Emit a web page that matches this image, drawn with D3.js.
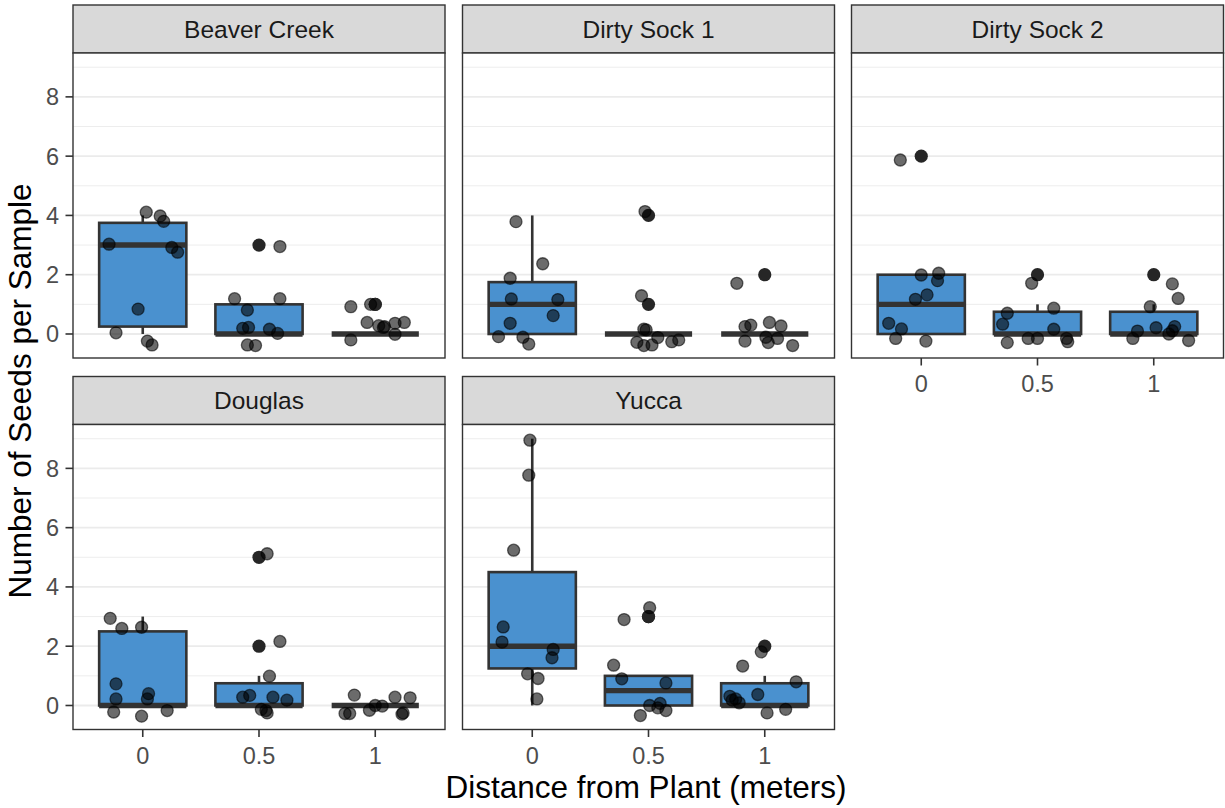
<!DOCTYPE html>
<html>
<head>
<meta charset="utf-8">
<script src="https://cdn.jsdelivr.net/npm/d3@7"></script>
<style>
  html, body { margin: 0; padding: 0; background: #ffffff; }
  svg { display: block; font-family: "Liberation Sans", Arial, Helvetica, sans-serif; }
</style>
</head>
<body>
<svg id="chart" width="1225" height="808"></svg>
<script>
// Seed counts per sample at each site. Each record: [distance (m), seeds, jitter x (band steps), jitter y (seeds)]
const sites = ["Beaver Creek", "Dirty Sock 1", "Dirty Sock 2", "Douglas", "Yucca"];
const distances = ["0", "0.5", "1"];
const yTicks = [0, 2, 4, 6, 8];
const yMinor = [1, 3, 5, 7, 9];

const beaverCreek = [
  [0, 4, 0.03, 0.11], [0, 4, 0.15, -0.02], [0, 4, 0.18, -0.20], [0, 3, -0.29, 0.03], [0, 3, 0.25, -0.08],
  [0, 3, 0.30, -0.24], [0, 1, -0.04, -0.16], [0, 0, -0.23, 0.04], [0, 0, 0.04, -0.24], [0, 0, 0.08, -0.37],
  [0.5, 1, -0.21, 0.19], [0.5, 1, 0.18, 0.19], [0.5, 1, -0.10, -0.19], [0.5, 0, -0.14, 0.19], [0.5, 0, -0.09, 0.22],
  [0.5, 0, 0.09, 0.16], [0.5, 0, 0.16, 0.02], [0.5, 0, -0.10, -0.37], [0.5, 0, -0.03, -0.39], [0.5, 3, 0.18, -0.05],
  [1, 1, -0.21, -0.08], [1, 1, -0.04, 0.00], [1, 0, -0.07, 0.39], [1, 0, 0.03, 0.28], [1, 0, 0.08, 0.25],
  [1, 0, 0.17, 0.36], [1, 0, 0.25, 0.39], [1, 0, 0.17, -0.01], [1, 0, -0.21, -0.20], [1, 0, 0.07, 0.22]
];

const dirtySock1 = [
  [0, 4, -0.14, -0.21], [0, 2, 0.09, 0.37], [0, 2, -0.19, -0.12], [0, 1, -0.18, 0.18], [0, 1, 0.22, 0.16],
  [0, 1, 0.18, -0.38], [0, 0, -0.19, 0.36], [0, 0, -0.29, -0.09], [0, 0, -0.08, -0.11], [0, 0, -0.03, -0.34],
  [0.5, 4, -0.03, 0.13], [0.5, 1, -0.06, 0.29], [0.5, 0, -0.04, 0.16], [0.5, 0, -0.02, 0.14], [0.5, 0, 0.08, -0.12],
  [0.5, 0, -0.10, -0.28], [0.5, 0, -0.04, -0.39], [0.5, 0, 0.03, -0.37], [0.5, 0, 0.20, -0.26], [0.5, 0, 0.26, -0.20],
  [1, 2, -0.24, -0.29], [1, 0, -0.17, 0.25], [1, 0, -0.12, 0.30], [1, 0, 0.04, 0.39], [1, 0, 0.14, 0.27],
  [1, 0, -0.17, -0.24], [1, 0, 0.01, -0.11], [1, 0, 0.03, -0.29], [1, 0, 0.11, -0.15], [1, 0, 0.24, -0.39]
];

const dirtySock2 = [
  [0, 6, -0.18, -0.13], [0, 2, 0.00, -0.01], [0, 2, 0.15, 0.05], [0, 2, 0.14, -0.20], [0, 1, 0.05, 0.32],
  [0, 1, -0.05, 0.17], [0, 0, -0.28, 0.36], [0, 0, -0.17, 0.17], [0, 0, -0.22, -0.15], [0, 0, 0.04, -0.24],
  [0.5, 2, -0.05, -0.29], [0.5, 1, -0.26, -0.30], [0.5, 1, 0.14, -0.13], [0.5, 0, -0.30, 0.33], [0.5, 0, 0.14, 0.16],
  [0.5, 0, -0.08, -0.15], [0.5, 0, 0.00, -0.15], [0.5, 0, -0.26, -0.29], [0.5, 0, 0.25, -0.15], [0.5, 0, 0.26, -0.26],
  [1, 2, 0.16, -0.31], [1, 1, 0.21, 0.20], [1, 1, -0.03, -0.08], [1, 0, -0.14, 0.10], [1, 0, -0.18, -0.15],
  [1, 0, 0.02, 0.21], [1, 0, 0.18, 0.25], [1, 0, 0.16, 0.11], [1, 0, 0.13, 0.00], [1, 0, 0.30, -0.22]
];

const douglas = [
  [0, 3, -0.28, -0.06], [0, 3, -0.18, -0.40], [0, 3, -0.01, -0.36], [0, 1, -0.23, -0.27], [0, 0, -0.23, 0.22],
  [0, 0, 0.05, 0.40], [0, 0, 0.04, 0.22], [0, 0, -0.25, -0.22], [0, 0, -0.01, -0.36], [0, 0, 0.21, -0.17],
  [0.5, 5, 0.07, 0.12], [0.5, 2, 0.18, 0.16], [0.5, 1, 0.09, -0.01], [0.5, 0, -0.14, 0.28], [0.5, 0, -0.08, 0.34],
  [0.5, 0, 0.12, 0.28], [0.5, 0, 0.24, 0.18], [0.5, 0, 0.02, -0.13], [0.5, 0, 0.07, -0.25], [0.5, 0, 0.06, -0.17],
  [1, 0, -0.18, 0.35], [1, 0, 0.17, 0.28], [1, 0, 0.30, 0.26], [1, 0, 0.00, 0.00], [1, 0, 0.06, -0.02],
  [1, 0, -0.05, -0.16], [1, 0, -0.26, -0.27], [1, 0, -0.22, -0.27], [1, 0, 0.24, -0.25], [1, 0, 0.23, -0.29]
];

const yucca = [
  [0, 9, -0.02, -0.05], [0, 8, -0.03, -0.23], [0, 5, -0.16, 0.24], [0, 3, -0.25, -0.35], [0, 2, -0.26, 0.14],
  [0, 2, 0.18, -0.11], [0, 2, 0.17, -0.39], [0, 1, -0.04, 0.07], [0, 1, 0.05, -0.09], [0, 0, 0.04, 0.22],
  [0.5, 3, 0.01, 0.30], [0.5, 3, -0.21, -0.10], [0.5, 1, -0.30, 0.36], [0.5, 1, -0.23, -0.10], [0.5, 1, 0.15, -0.24],
  [0.5, 0, 0.01, 0.00], [0.5, 0, 0.10, 0.07], [0.5, 0, 0.08, -0.08], [0.5, 0, 0.15, -0.17], [0.5, 0, -0.07, -0.34],
  [1, 2, -0.03, -0.19], [1, 1, -0.19, 0.33], [1, 1, 0.27, -0.20], [1, 0, -0.06, 0.37], [1, 0, -0.30, 0.31],
  [1, 0, -0.28, 0.18], [1, 0, -0.22, 0.09], [1, 0, -0.25, 0.22], [1, 0, 0.02, -0.25], [1, 0, 0.18, -0.13]
];

const siteData = [beaverCreek, dirtySock1, dirtySock2, douglas, yucca];

// ---- layout ----
const colX = [73, 462.5, 851.5];
const rowY = [53, 424.5];
const panelW = 372, panelH = 305, stripH = 48;
const yDomain = [-0.81, 9.48];

const boxFill = "#4a91cf";
const ink = "#333333";
const gridCol = "#ebebeb";
const tickTextCol = "#4d4d4d";

const svg = d3.select("#chart");

function boxStats(values) {
  const s = values.slice().sort(d3.ascending);
  const q1 = d3.quantileSorted(s, 0.25);
  const med = d3.quantileSorted(s, 0.5);
  const q3 = d3.quantileSorted(s, 0.75);
  const iqr = q3 - q1;
  const loF = q1 - 1.5 * iqr, hiF = q3 + 1.5 * iqr;
  const inside = s.filter(v => v >= loF && v <= hiF);
  return {
    q1, med, q3,
    lo: d3.min(inside), hi: d3.max(inside),
    outliers: s.filter(v => v < loF || v > hiF)
  };
}

sites.forEach((site, i) => {
  const col = i % 3, row = Math.floor(i / 3);
  const x0 = colX[col], y0 = rowY[row];
  const data = siteData[i];

  const x = d3.scalePoint().domain(distances).range([x0, x0 + panelW]).padding(0.6);
  const y = d3.scaleLinear().domain(yDomain).range([y0 + panelH, y0]);
  const step = x.step();
  const boxW = 0.75 * step;

  const g = svg.append("g");

  // strip
  g.append("rect")
    .attr("x", x0).attr("y", y0 - stripH)
    .attr("width", panelW).attr("height", stripH)
    .attr("fill", "#d9d9d9").attr("stroke", ink).attr("stroke-width", 1.4);
  g.append("text")
    .attr("x", x0 + panelW / 2).attr("y", y0 - stripH + 32.5)
    .attr("text-anchor", "middle")
    .attr("font-size", 24.5).attr("fill", "#1a1a1a")
    .text(site);

  // panel background + horizontal grid
  g.append("rect")
    .attr("x", x0).attr("y", y0).attr("width", panelW).attr("height", panelH)
    .attr("fill", "#ffffff");
  g.selectAll(".minor").data(yMinor).join("line")
    .attr("x1", x0).attr("x2", x0 + panelW)
    .attr("y1", d => y(d)).attr("y2", d => y(d))
    .attr("stroke", gridCol).attr("stroke-width", 0.9);
  g.selectAll(".major").data(yTicks).join("line")
    .attr("x1", x0).attr("x2", x0 + panelW)
    .attr("y1", d => y(d)).attr("y2", d => y(d))
    .attr("stroke", gridCol).attr("stroke-width", 1.8);

  // boxplots
  distances.forEach(dist => {
    const counts = data.filter(r => String(r[0]) === dist).map(r => r[1]);
    const st = boxStats(counts);
    const cx = x(dist);
    const bg = g.append("g");
    bg.append("line")
      .attr("x1", cx).attr("x2", cx).attr("y1", y(st.q3)).attr("y2", y(st.hi))
      .attr("stroke", ink).attr("stroke-width", 2.6);
    bg.append("line")
      .attr("x1", cx).attr("x2", cx).attr("y1", y(st.q1)).attr("y2", y(st.lo))
      .attr("stroke", ink).attr("stroke-width", 2.6);
    bg.append("rect")
      .attr("x", cx - boxW / 2).attr("width", boxW)
      .attr("y", y(st.q3)).attr("height", Math.max(0, y(st.q1) - y(st.q3)))
      .attr("fill", boxFill).attr("stroke", ink).attr("stroke-width", 2.6);
    bg.append("line")
      .attr("x1", cx - boxW / 2).attr("x2", cx + boxW / 2)
      .attr("y1", y(st.med)).attr("y2", y(st.med))
      .attr("stroke", ink).attr("stroke-width", 5.4);
    bg.selectAll("circle").data(st.outliers).join("circle")
      .attr("cx", cx).attr("cy", d => y(d)).attr("r", 6.6)
      .attr("fill", "#262626");
  });

  // jittered samples
  g.selectAll(".pt").data(data).join("circle")
    .attr("cx", d => x(String(d[0])) + d[2] * step)
    .attr("cy", d => y(d[1] + d[3]))
    .attr("r", 6)
    .attr("fill", "#000").attr("fill-opacity", 0.58)
    .attr("stroke", "#000").attr("stroke-opacity", 0.58).attr("stroke-width", 1.3);

  // panel border
  g.append("rect")
    .attr("x", x0).attr("y", y0).attr("width", panelW).attr("height", panelH)
    .attr("fill", "none").attr("stroke", ink).attr("stroke-width", 1.4);

  // y axis on the left column
  if (col === 0) {
    const ay = g.append("g");
    ay.selectAll("line").data(yTicks).join("line")
      .attr("x1", x0 - 7.5).attr("x2", x0)
      .attr("y1", d => y(d)).attr("y2", d => y(d))
      .attr("stroke", ink).attr("stroke-width", 1.6);
    ay.selectAll("text").data(yTicks).join("text")
      .attr("x", x0 - 14).attr("y", d => y(d)).attr("dy", "0.36em")
      .attr("text-anchor", "end").attr("font-size", 23.5).attr("fill", tickTextCol)
      .text(d => d);
  }

  // x axis under the lowest panel of each column
  if (row === 1 || col === 2) {
    const yb = y0 + panelH;
    const ax = g.append("g");
    ax.selectAll("line").data(distances).join("line")
      .attr("x1", d => x(d)).attr("x2", d => x(d))
      .attr("y1", yb).attr("y2", yb + 7.5)
      .attr("stroke", ink).attr("stroke-width", 1.6);
    ax.selectAll("text").data(distances).join("text")
      .attr("x", d => x(d)).attr("y", yb + 34)
      .attr("text-anchor", "middle").attr("font-size", 23.5).attr("fill", tickTextCol)
      .text(d => d);
  }
});

// axis titles
svg.append("text")
  .attr("x", 646).attr("y", 798)
  .attr("text-anchor", "middle").attr("font-size", 31.5).attr("fill", "#000")
  .text("Distance from Plant (meters)");
svg.append("text")
  .attr("transform", "translate(31,391) rotate(-90)")
  .attr("text-anchor", "middle").attr("font-size", 31.5).attr("fill", "#000")
  .text("Number of Seeds per Sample");
</script>
</body>
</html>
